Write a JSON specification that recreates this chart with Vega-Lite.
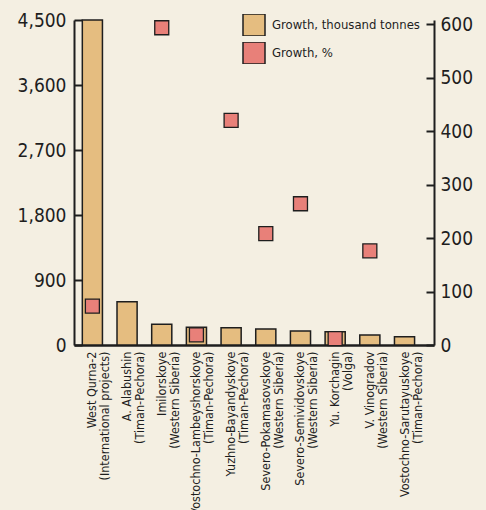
{
  "$schema": "https://vega.github.io/schema/vega-lite/v6.json",
  "width": 360,
  "height": 325,
  "autosize": "none",
  "padding": {"left": 74, "top": 20, "right": 52, "bottom": 165},
  "background": "#f4efe2",
  "config": {
    "view": {"stroke": null},
    "font": "DejaVu Sans Condensed",
    "axis": {"domainColor": "#1e1e1e", "domainWidth": 2, "tickColor": "#1e1e1e", "tickWidth": 2, "labelColor": "#1e1e1e", "grid": false, "labelFont": "DejaVu Sans Condensed"},
    "legend": {"labelFont": "DejaVu Sans Condensed"}
  },
  "data": {
    "values": [
      {"field": "West Qurna-2|(International projects)", "tonnes": 4500, "pct": 72.5},
      {"field": "A. Alabushin|(Timan-Pechora)", "tonnes": 600, "pct": null},
      {"field": "Imilorskoye|(Western Siberia)", "tonnes": 287, "pct": 593},
      {"field": "Vostochno-Lambeyshorskoye|(Timan-Pechora)", "tonnes": 245, "pct": 19},
      {"field": "Yuzhno-Bayandyskoye|(Timan-Pechora)", "tonnes": 240, "pct": 420},
      {"field": "Severo-Pokamasovskoye|(Western Siberia)", "tonnes": 221, "pct": 208},
      {"field": "Severo-Semividovskoye|(Western Siberia)", "tonnes": 194, "pct": 264},
      {"field": "Yu. Korchagin|(Volga)", "tonnes": 184, "pct": 12},
      {"field": "V. Vinogradov|(Western Siberia)", "tonnes": 138, "pct": 176},
      {"field": "Vostochno-Sarutayuskoye|(Timan-Pechora)", "tonnes": 115, "pct": null}
    ]
  },
  "encoding": {
    "x": {
      "field": "field", "type": "nominal", "sort": null,
      "scale": {"paddingInner": 0.42, "paddingOuter": 0.4, "align": 0.3},
      "axis": {"title": null, "labelAngle": -90, "ticks": false, "labelPadding": 6, "labelFontSize": 12.5, "labelLineHeight": 13, "labelLimit": 200, "labelExpr": "split(datum.label, '|')", "domainWidth": 2.5}
    }
  },
  "layer": [
    {
      "mark": {"type": "bar", "stroke": "#1e1e1e", "strokeWidth": 1.5},
      "encoding": {
        "y": {
          "field": "tonnes", "type": "quantitative",
          "scale": {"domain": [0, 4500], "nice": false},
          "axis": {"title": null, "orient": "left", "values": [0, 900, 1800, 2700, 3600, 4500], "format": ",.0f", "labelFontSize": 19, "tickSize": -8, "labelPadding": 16}
        },
        "color": {
          "datum": "Growth, thousand tonnes",
          "scale": {"domain": ["Growth, thousand tonnes", "Growth, %"], "range": ["#e5bd80", "#e88079"]},
          "legend": {
            "title": null, "orient": "none", "legendX": 168, "legendY": -6,
            "symbolType": "square", "symbolSize": 484, "symbolStrokeColor": "#1e1e1e", "symbolStrokeWidth": 1.5, "symbolOpacity": 1,
            "labelFontSize": 13, "labelColor": "#1e1e1e", "labelLimit": 300, "rowPadding": 6, "clipHeight": 22, "labelOffset": 6
          }
        }
      }
    },
    {
      "mark": {"type": "point", "shape": "square", "size": 196, "filled": true, "opacity": 1, "stroke": "#1e1e1e", "strokeWidth": 1.3},
      "encoding": {
        "y": {
          "field": "pct", "type": "quantitative",
          "scale": {"domain": [0, 607.5], "nice": false},
          "axis": {"title": null, "orient": "right", "values": [0, 100, 200, 300, 400, 500, 600], "labelFontSize": 19, "tickSize": -8, "labelPadding": 14}
        },
        "color": {"datum": "Growth, %"}
      }
    }
  ],
  "resolve": {"scale": {"y": "independent"}}
}
